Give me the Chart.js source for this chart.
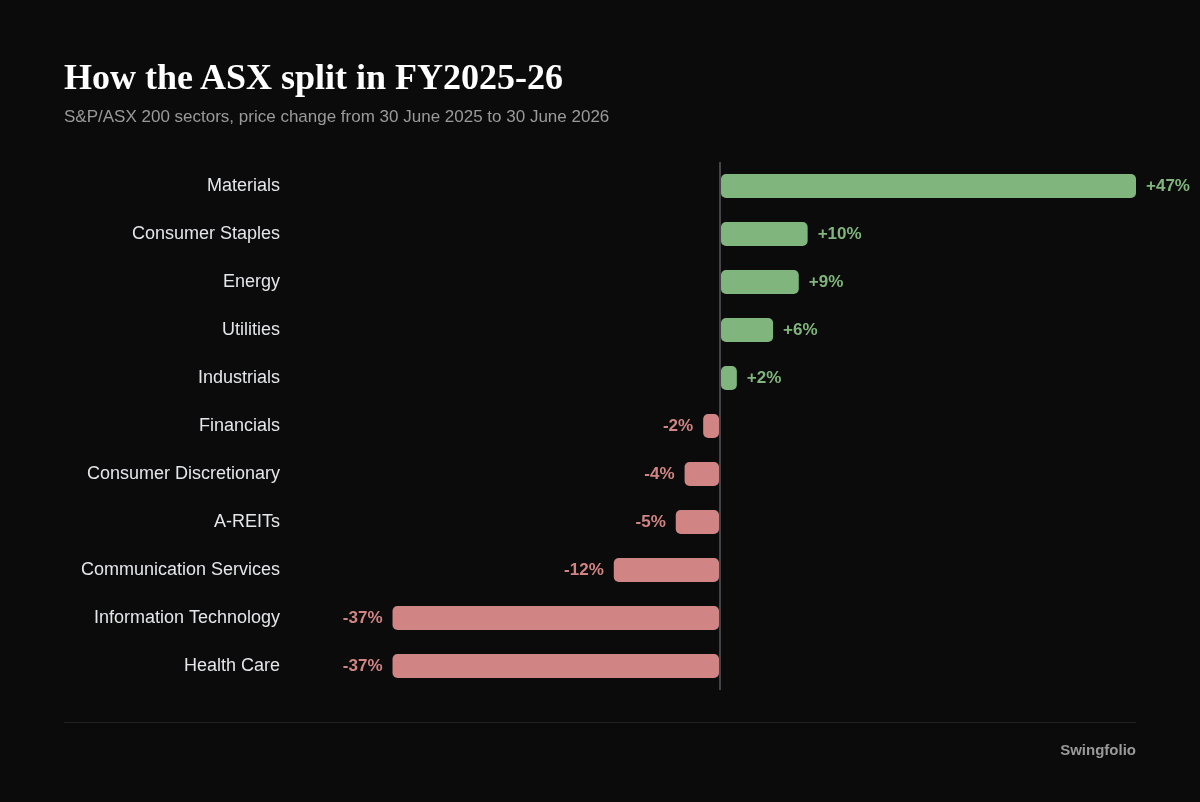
<!DOCTYPE html>
<html>
<head>
<meta charset="utf-8">
<script src="https://cdn.jsdelivr.net/npm/chart.js@4.4.1/dist/chart.umd.min.js"></script>
<style>
    html, body { margin: 0; padding: 0; background: #0b0b0b; }
    #wrap { position: relative; width: 1200px; height: 802px; overflow: hidden; }
    #title {
        position: absolute; left: 64px; top: 59px; margin: 0;
        font: bold 36px "Liberation Serif", "Times New Roman", serif;
        line-height: 1; color: #ffffff; white-space: nowrap;
    }
    #subtitle {
        position: absolute; left: 64px; top: 108px; margin: 0;
        font: 17px "Liberation Sans", Arial, sans-serif;
        line-height: 1; color: #9a9a9a; white-space: nowrap;
    }
    #rule {
        position: absolute; left: 64px; top: 722px; width: 1072px; height: 1px;
        background: #222222;
    }
    #source {
        position: absolute; right: 64px; top: 742px;
        font: bold 15px "Liberation Sans", Arial, sans-serif;
        line-height: 1; color: #9a9a9a;
    }
    #chartBox { position: absolute; left: 0; top: 0; width: 1200px; height: 802px; }
</style>
</head>
<body>
<div id="wrap">
    <div id="chartBox"><canvas id="sectorChart"></canvas></div>
    <h1 id="title">How the ASX split in FY2025-26</h1>
    <p id="subtitle">S&amp;P/ASX 200 sectors, price change from 30 June 2025 to 30 June 2026</p>
    <div id="rule"></div>
    <div id="source">Swingfolio</div>
</div>
<script>
// 섹터별 가격 변화 (%)
const sectors = [
    'Materials', 'Consumer Staples', 'Energy', 'Utilities', 'Industrials',
    'Financials', 'Consumer Discretionary', 'A-REITs', 'Communication Services',
    'Information Technology', 'Health Care'
];
const changes = [47.0, 9.9, 8.9, 6.0, 1.9, -1.9, -4.0, -5.0, -12.0, -37.0, -37.0];
const axisLimit = 47;

const GREEN = '#80b67e';
const RED = '#d08584';
const FONT = '"Liberation Sans", Arial, sans-serif';

// 막대 끝에 값 라벨 그리기
const valueLabels = {
    id: 'valueLabels',
    afterDatasetsDraw(chart) {
        const ctx = chart.ctx;
        const meta = chart.getDatasetMeta(0);
        ctx.save();
        ctx.font = 'bold 17px ' + FONT;
        ctx.textBaseline = 'middle';
        meta.data.forEach((bar, i) => {
            const v = changes[i];
            const txt = (v > 0 ? '+' : '') + Math.round(v) + '%';
            if (v >= 0) {
                ctx.fillStyle = GREEN;
                ctx.textAlign = 'left';
                ctx.fillText(txt, bar.x + 10, bar.y);
            } else {
                ctx.fillStyle = RED;
                ctx.textAlign = 'right';
                ctx.fillText(txt, bar.x - 10, bar.y);
            }
        });
        ctx.restore();
    }
};

new Chart(document.getElementById('sectorChart'), {
    type: 'bar',
    data: {
        labels: sectors,
        datasets: [{
            data: changes,
            backgroundColor: changes.map(v => v >= 0 ? GREEN : RED),
            borderRadius: 5,
            borderSkipped: false,
            categoryPercentage: 0.5,
            barPercentage: 1
        }]
    },
    options: {
        indexAxis: 'y',
        responsive: true,
        maintainAspectRatio: false,
        animation: false,
        layout: { padding: { top: 162, bottom: 112, right: 64, left: 0 } },
        plugins: {
            legend: { display: false },
            tooltip: { enabled: false }
        },
        scales: {
            x: {
                min: -axisLimit,
                max: axisLimit,
                border: { display: false },
                ticks: { display: false },
                grid: {
                    drawTicks: false,
                    lineWidth: 2,
                    color: c => c.tick && c.tick.value === 0 ? '#444448' : 'rgba(0,0,0,0)'
                },
                afterFit(scale) { scale.height = 0; }
            },
            y: {
                border: { display: false },
                grid: { display: false },
                ticks: {
                    color: '#e4e6ea',
                    padding: 16,
                    font: { family: FONT, size: 18 }
                },
                afterFit(scale) { scale.width = 304; }
            }
        }
    },
    plugins: [valueLabels]
});
</script>
</body>
</html>
